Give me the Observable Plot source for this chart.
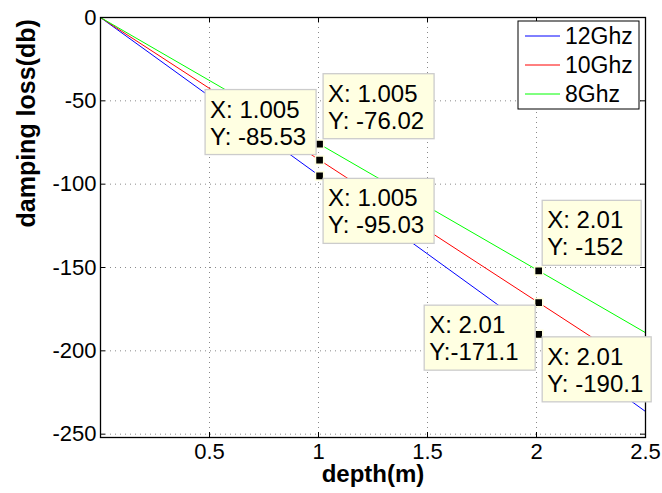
<!DOCTYPE html>
<html><head><meta charset="utf-8">
<script src="https://cdn.jsdelivr.net/npm/d3@7"></script>
<script src="https://cdn.jsdelivr.net/npm/@observablehq/plot@0.6"></script>
<style>
body{margin:0;background:#fff;}
#chart svg{display:block;}
</style></head><body><div id="chart"></div>
<script>
// ---- data ----
const depth = [0, 1.005, 2.01, 2.5];
const loss12 = [0, -95.03, -190.1, -236.4];
const loss10 = [0, -85.53, -171.1, -212.8];
const loss8 = [0, -76.02, -152, -189.1];
const seriesNames = ["12Ghz", "10Ghz", "8Ghz"];
const seriesColors = ["#0000ff", "#ff0000", "#00ff00"];
const xTicks = [0.5, 1, 1.5, 2, 2.5];
const xTickLabels = ["0.5", "1", "1.5", "2", "2.5"];
const yTicks = [0, -50, -100, -150, -200, -250];
const yTickLabels = ["0", "-50", "-100", "-150", "-200", "-250"];
const xLabel = "depth(m)";
const yLabel = "damping loss(db)";
const tipX = [1.005, 1.005, 1.005, 2.01, 2.01, 2.01];
const tipY = [-76.02, -85.53, -95.03, -152, -171.1, -190.1];
const tipLines = [
  ["X: 1.005", "Y: -76.02"],
  ["X: 1.005", "Y: -85.53"],
  ["X: 1.005", "Y: -95.03"],
  ["X: 2.01", "Y: -152"],
  ["X: 2.01", "Y:-171.1"],
  ["X: 2.01", "Y: -190.1"]
];
// ---- style ----
const tipPlacement = ["ne", "nw", "se", "ne", "sw", "se"];
const tipBoxW = [111, 111, 111, 99, 111, 109];
const W = 662, H = 493, mL = 100, mR = 17, mT = 17, mB = 56;
const plotW = W - mL - mR, plotH = H - mT - mB;
const FONT = "'Liberation Sans', Arial, Helvetica, sans-serif";

const allSeries = [loss12, loss10, loss8];
const rows = [];
allSeries.forEach((vals, s) => vals.forEach((v, i) => rows.push({depth: depth[i], loss: v, series: seriesNames[s]})));
const tips = tipX.map((x, i) => ({x, y: tipY[i], lines: tipLines[i], place: tipPlacement[i], w: tipBoxW[i]}));

const gridStyle = {stroke: "#8a8a8a", strokeOpacity: 1, strokeDasharray: "1,4", strokeWidth: 1};
const tickLen = 5;

const chart = Plot.plot({
  width: W, height: H,
  marginLeft: mL, marginRight: mR, marginTop: mT, marginBottom: mB,
  style: {fontFamily: FONT, fontSize: "22px", color: "#000", background: "#fff", overflow: "visible"},
  x: {domain: [0, 2.5]},
  y: {domain: [-252, 0]},
  color: {domain: seriesNames, range: seriesColors},
  marks: [
    Plot.gridX(xTicks.slice(0, -1), gridStyle),
    Plot.gridY(yTicks.slice(1), gridStyle),
    Plot.tickX(xTicks, {x: d => d, insetTop: plotH - tickLen, stroke: "#000"}),
    Plot.tickX(xTicks, {x: d => d, insetBottom: plotH - tickLen, stroke: "#000"}),
    Plot.tickY(yTicks, {y: d => d, insetRight: plotW - tickLen, stroke: "#000"}),
    Plot.tickY(yTicks, {y: d => d, insetLeft: plotW - tickLen, stroke: "#000"}),
    Plot.line(rows, {x: "depth", y: "loss", z: "series", stroke: "series", strokeWidth: 1}),
    Plot.frame({stroke: "#000", strokeWidth: 1.3}),
    Plot.axisX({ticks: xTicks, tickFormat: d => xTickLabels[xTicks.indexOf(d)], tickSize: 0, tickPadding: 6, label: null, fontSize: 22}),
    Plot.axisY({ticks: yTicks, tickFormat: d => yTickLabels[yTicks.indexOf(d)], tickSize: 0, tickPadding: 4, label: null, fontSize: 22}),
    Plot.text([xLabel], {text: d => d, frameAnchor: "bottom", dy: 44, fontWeight: "bold", fontSize: 24}),
    Plot.text([yLabel], {text: d => d, frameAnchor: "left", rotate: -90, dx: -74, fontWeight: "bold", fontSize: 25}),
    Plot.dot(tips, {x: "x", y: "y", symbol: "square", r: 4.6, fill: "#000", stroke: "#ffffe0", strokeWidth: 1.5})
  ]
});
document.getElementById("chart").appendChild(chart);

const sx = chart.scale("x"), sy = chart.scale("y");
const svg = d3.select(chart);

// data tips
const boxH = 65;
const tg = svg.append("g").attr("font-family", FONT).attr("font-size", 24).attr("text-anchor", "start");
tips.forEach(t => {
  const px = sx.apply(t.x), py = sy.apply(t.y);
  const left = t.place[1] === "e" ? px + 4 : px - 3 - t.w;
  const top = t.place[0] === "n" ? py - 5 - boxH : py + 3;
  tg.append("rect").attr("x", left).attr("y", top).attr("width", t.w).attr("height", boxH)
    .attr("fill", "#ffffe2").attr("stroke", "#cccccc").attr("stroke-width", 1.3);
  t.lines.forEach((ln, k) => {
    tg.append("text").attr("x", left + 5).attr("y", top + 28 + k * 27).attr("fill", "#000").text(ln);
  });
});

// legend
const lg = svg.append("g").attr("font-family", FONT).attr("font-size", 23).attr("text-anchor", "start");
const lgRight = mL + plotW - 6, lgW = 121, lgTop = 21, lgH = 88, rowH = 29;
const lgLeft = lgRight - lgW;
lg.append("rect").attr("x", lgLeft).attr("y", lgTop).attr("width", lgW).attr("height", lgH)
  .attr("fill", "#fff").attr("stroke", "#000").attr("stroke-width", 1);
seriesNames.forEach((name, i) => {
  const cy = lgTop + 15 + i * rowH;
  lg.append("line").attr("x1", lgLeft + 7).attr("x2", lgLeft + 42).attr("y1", cy).attr("y2", cy)
    .attr("stroke", seriesColors[i]).attr("stroke-width", 1);
  lg.append("text").attr("x", lgLeft + 47).attr("y", cy).attr("dy", "0.36em").attr("fill", "#000").text(name);
});
</script>
</body></html>
